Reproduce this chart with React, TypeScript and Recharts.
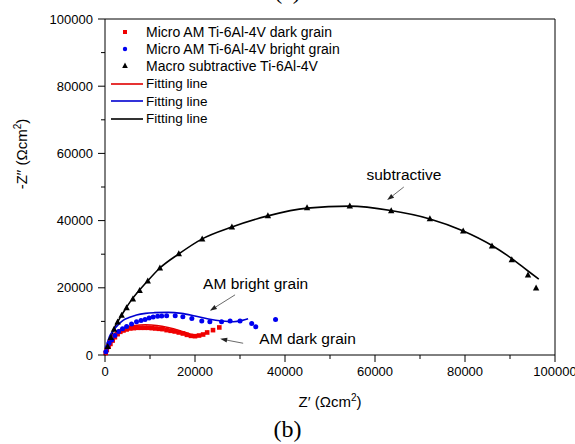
import { ScatterChart, Scatter, XAxis, YAxis, ReferenceLine, ReferenceDot, Legend } from 'recharts';

// Z' / -Z'' pairs (Ωcm²)
const darkGrain = [
    [150, 600], [400, 1500], [800, 2500], [1200, 3300], [1700, 4300], [2200, 5300], [2800, 6200],
    [3400, 6900], [4100, 7300], [4800, 7600], [5600, 7900], [6400, 8000], [7200, 8100], [8000, 8100],
    [8800, 8100], [9600, 8100], [10400, 8000], [11200, 7900], [12000, 7800], [12800, 7700],
    [13700, 7400], [14600, 7200], [15500, 7000], [16400, 6700], [17300, 6400], [18200, 6000],
    [19100, 5700], [20000, 5600], [20900, 5800], [21800, 6100], [22700, 6700], [24000, 7400], [25400, 8200],
];
const brightGrain = [
    [200, 1000], [500, 2300], [900, 3500], [1500, 4500], [2200, 5800], [3000, 7000], [3900, 7800],
    [4800, 8500], [5900, 9200], [7000, 9900], [8000, 10300], [8900, 10600], [9800, 11000],
    [10700, 11300], [11700, 11500], [12600, 11600], [13700, 11700], [15600, 11700], [17300, 11400],
    [19300, 10900], [21500, 10100], [23300, 9900], [25900, 9900], [27800, 10100], [30000, 10100],
    [32600, 9400], [33500, 8400], [37900, 10600],
];
const subtractive = [
    [600, 2500], [1300, 5200], [2000, 7600], [2800, 9800], [3700, 11800], [4800, 14000], [6200, 16600],
    [7700, 19200], [9500, 22000], [12200, 25900], [16400, 30100], [21600, 34500], [28200, 38100],
    [36200, 41400], [44900, 43800], [54400, 44300], [63600, 42900], [72200, 40500], [79600, 36900],
    [86000, 32400], [90400, 28300], [94000, 23800], [95800, 19900],
];
const darkFit = [
    [0, 0], [400, 2500], [1000, 4500], [1800, 6000], [3000, 7300], [4500, 8200], [6500, 8800],
    [9000, 9000], [11500, 8800], [14000, 8200], [16500, 7300], [18500, 6400], [20000, 5800],
    [21000, 5700], [22000, 6200], [23000, 7200],
];
const brightFit = [
    [0, 0], [400, 3000], [1000, 5500], [1900, 7400], [3000, 9100], [4100, 10400], [5500, 11200],
    [7000, 11900], [9000, 12400], [11000, 12600], [14000, 12700], [17000, 12400], [20000, 11600],
    [23000, 10700], [26000, 10100], [28500, 9900], [30500, 10300], [31800, 10800],
];
const subtractiveFit = [
    [0, 0], [300, 1500], [1100, 4500], [2200, 8400], [3300, 11000], [4400, 13400], [5900, 16400],
    [7400, 18900], [9300, 21800], [12200, 25900], [16400, 30100], [21500, 34500], [28200, 38100],
    [36200, 41400], [44900, 43700], [54400, 44300], [63500, 43000], [72200, 40500], [79500, 37000],
    [86000, 32600], [90400, 28700], [94000, 25000], [96400, 22600],
];

const TICKS = [0, 10000, 20000, 30000, 40000, 50000, 60000, 70000, 80000, 90000, 100000];

const legendItems = [
    { label: 'Micro AM Ti-6Al-4V dark grain', color: '#f00000', kind: 'square' },
    { label: 'Micro AM Ti-6Al-4V bright grain', color: '#0000f0', kind: 'circle' },
    { label: 'Macro subtractive Ti-6Al-4V', color: '#000000', kind: 'triangle' },
    { label: 'Fitting line', color: '#e00000', kind: 'line' },
    { label: 'Fitting line', color: '#0000d0', kind: 'line' },
    { label: 'Fitting line', color: '#000000', kind: 'line' },
];

// annotation text + arrow (start -> head), in data units
const notes = [
    { text: 'subtractive', x: 58100, y: 53600, from: [66400, 50000], to: [62700, 46100] },
    { text: 'AM bright grain', x: 21800, y: 21400, from: [28900, 17900], to: [23300, 13200] },
    { text: 'AM dark grain', x: 34300, y: 4800, from: [30700, 3500], to: [25600, 4800] },
];

const FONT = '"Liberation Sans", Arial, sans-serif';
const SERIF = '"Liberation Serif", "Times New Roman", serif';

const toPts = (arr: number[][]) => arr.map(([x, y]) => ({ x, y }));

const Square = ({ cx, cy, fill }: any) => <rect x={cx - 2.3} y={cy - 2.3} width={4.6} height={4.6} fill={fill} />;
const Dot = ({ cx, cy, fill }: any) => <circle cx={cx} cy={cy} r={2.5} fill={fill} />;
const Tri = ({ cx, cy, fill }: any) => (
    <polygon points={`${cx},${cy - 3.6} ${cx - 3.2},${cy + 2.4} ${cx + 3.2},${cy + 2.4}`} fill={fill} />
);
const NoShape = () => <g />;

const XTick = ({ x, y, payload }: any) => {
    const v = payload.value;
    const major = v % 20000 === 0;
    const ay = y - 12;
    return (
        <g>
            <line x1={x} x2={x} y1={ay} y2={ay + (major ? 7 : 4)} stroke="#000" />
            {major && (
                <text x={x} y={y} dy="0.71em" textAnchor="middle" fontSize={13} fontFamily={FONT} fill="#000">
                    {v}
                </text>
            )}
        </g>
    );
};

const YTick = ({ x, y, payload }: any) => {
    const v = payload.value;
    const major = v % 20000 === 0;
    const ax = x + 12;
    return (
        <g>
            <line x1={ax} x2={ax - (major ? 7 : 4)} y1={y} y2={y} stroke="#000" />
            {major && (
                <text x={x} y={y} dy="0.36em" textAnchor="end" fontSize={13} fontFamily={FONT} fill="#000">
                    {v}
                </text>
            )}
        </g>
    );
};

const Arrow = ({ x1, y1, x2, y2 }: any) => {
    const a = Math.atan2(y2 - y1, x2 - x1);
    const len = 7;
    const w = 2.4;
    const bx = x2 - len * Math.cos(a);
    const by = y2 - len * Math.sin(a);
    const px = -Math.sin(a) * w;
    const py = Math.cos(a) * w;
    return (
        <g>
            <line x1={x1} y1={y1} x2={bx} y2={by} stroke="#444" strokeWidth={0.8} />
            <polygon points={`${x2},${y2} ${bx + px},${by + py} ${bx - px},${by - py}`} fill="#222" />
        </g>
    );
};

const LegendBox = () => (
    <div style={{ fontFamily: FONT, color: '#000' }}>
        {legendItems.map((it, i) => (
            <div key={i} style={{ display: 'flex', alignItems: 'center', height: 17.4 }}>
                <svg width={38} height={12} style={{ flex: 'none' }}>
                    {it.kind === 'line' && <line x1={3} x2={35} y1={6} y2={6} stroke={it.color} strokeWidth={1.6} />}
                    {it.kind === 'square' && <rect x={15} y={4} width={4} height={4} fill={it.color} />}
                    {it.kind === 'circle' && <circle cx={17} cy={6} r={2.2} fill={it.color} />}
                    {it.kind === 'triangle' && <polygon points="17,2.6 14.2,8 19.8,8" fill={it.color} />}
                </svg>
                <span style={{ fontSize: it.kind === 'line' ? 13.5 : 14, whiteSpace: 'nowrap' }}>{it.label}</span>
            </div>
        ))}
    </div>
);

export default function App() {
    return (
        <div style={{ position: 'absolute', left: 0, top: 0, width: 575, height: 444, background: '#fff', overflow: 'hidden' }}>
            <ScatterChart width={575} height={444} margin={{ top: 19, right: 20, bottom: 0, left: 0 }}>
                <XAxis
                    type="number"
                    dataKey="x"
                    domain={[0, 100000]}
                    ticks={TICKS}
                    interval={0}
                    height={89}
                    tickSize={7}
                    tickMargin={5}
                    tickLine={false}
                    axisLine={{ stroke: '#000' }}
                    tick={<XTick />}
                    label={{
                        content: ({ viewBox }: any) => (
                            <text x={viewBox.x + viewBox.width / 2} y={viewBox.y + 52} textAnchor="middle" fontSize={15} fontFamily={FONT} fill="#000">
                                Z′ (Ωcm<tspan dy={-6} fontSize={10}>2</tspan><tspan dy={6}>)</tspan>
                            </text>
                        ),
                    }}
                />
                <YAxis
                    type="number"
                    dataKey="y"
                    domain={[0, 100000]}
                    ticks={TICKS}
                    interval={0}
                    width={105}
                    tickSize={7}
                    tickMargin={5}
                    tickLine={false}
                    axisLine={{ stroke: '#000' }}
                    tick={<YTick />}
                    label={{
                        content: ({ viewBox }: any) => {
                            const cx = viewBox.x + 27;
                            const cy = viewBox.y + 135;
                            return (
                                <text x={cx} y={cy} transform={`rotate(-90 ${cx} ${cy})`} textAnchor="middle" fontSize={15} fontFamily={FONT} fill="#000">
                                    -Z′′ (Ωcm<tspan dy={-6} fontSize={10}>2</tspan><tspan dy={6}>)</tspan>
                                </text>
                            );
                        },
                    }}
                />
                <ReferenceLine y={100000} stroke="#000" />
                <ReferenceLine x={100000} stroke="#000" />

                <Scatter data={toPts(subtractiveFit)} fill="#000" line={{ stroke: '#000', strokeWidth: 1.6 }} lineJointType="monotoneX" shape={<NoShape />} isAnimationActive={false} />
                <Scatter data={toPts(brightFit)} fill="#0000d0" line={{ stroke: '#0000d0', strokeWidth: 1.6 }} lineJointType="monotoneX" shape={<NoShape />} isAnimationActive={false} />
                <Scatter data={toPts(darkFit)} fill="#e00000" line={{ stroke: '#e00000', strokeWidth: 1.6 }} lineJointType="monotoneX" shape={<NoShape />} isAnimationActive={false} />
                <Scatter data={toPts(darkGrain)} fill="#f00000" shape={<Square />} isAnimationActive={false} />
                <Scatter data={toPts(brightGrain)} fill="#0000f0" shape={<Dot />} isAnimationActive={false} />
                <Scatter data={toPts(subtractive)} fill="#000" shape={<Tri />} isAnimationActive={false} />

                {notes.map((n, i) => (
                    <ReferenceLine
                        key={`arrow-${i}`}
                        segment={[{ x: n.from[0], y: n.from[1] }, { x: n.to[0], y: n.to[1] }]}
                        shape={<Arrow />}
                    />
                ))}
                {notes.map((n, i) => (
                    <ReferenceDot
                        key={`note-${i}`}
                        x={n.x}
                        y={n.y}
                        r={0}
                        shape={({ cx, cy }: any) => (
                            <text x={cx} y={cy} dy="0.36em" fontSize={15.5} fontFamily={FONT} fill="#000">
                                {n.text}
                            </text>
                        )}
                    />
                ))}

                <Legend
                    layout="vertical"
                    align="center"
                    verticalAlign="middle"
                    wrapperStyle={{ position: 'absolute', left: 108, top: 23, width: 'auto' }}
                    content={() => <LegendBox />}
                />
            </ScatterChart>
            {/* bottom edge of the previous panel's caption, cropped in the source */}
            <div style={{ position: 'absolute', left: 0, width: 575, top: -23, textAlign: 'center', fontFamily: SERIF, fontSize: 24, lineHeight: '28px', color: '#000' }}>
                (a)
            </div>
            <div style={{ position: 'absolute', left: 0, width: 575, top: 415, textAlign: 'center', fontFamily: SERIF, fontSize: 24, lineHeight: '28px', color: '#000' }}>
                (b)
            </div>
        </div>
    );
}
